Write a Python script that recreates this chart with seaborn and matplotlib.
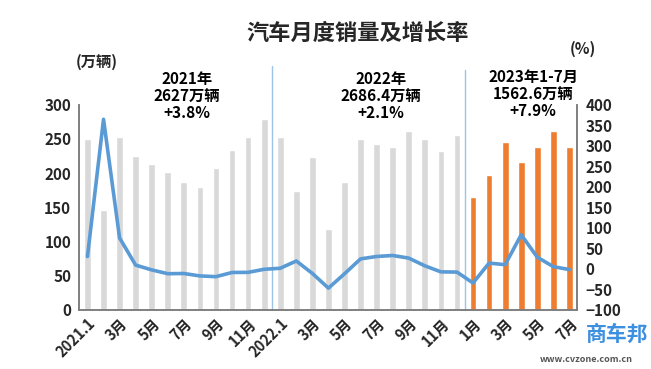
import matplotlib
matplotlib.use('Agg')
import matplotlib.pyplot as plt
import seaborn as sns
import numpy as np
import pandas as pd

# monthly sales (10k units), 2021.1 - 2023.7
sales_2021 = [250.3, 145.5, 252.6, 225.2, 212.8, 201.5, 186.4, 179.9, 207.1, 233.3, 252.2, 278.6]
sales_2022 = [253.1, 173.7, 223.4, 118.1, 186.2, 250.2, 242.0, 238.3, 261.0, 250.6, 232.6, 255.6]
sales_2023 = [164.9, 197.6, 245.1, 215.9, 238.2, 262.2, 238.7]

# year-on-year growth (%)
growth = [29.5, 364.6, 74.9, 8.6, -3.1, -12.4, -11.9, -17.8, -19.6, -9.4, -9.1, -1.6,
          0.9, 18.7, -11.7, -47.6, -12.6, 23.8, 29.7, 32.1, 25.7, 6.9, -7.9, -8.4,
          -35.0, 13.5, 9.7, 82.7, 27.9, 4.8, -2.3]

tick_labels = ['2021.1', '3月', '5月', '7月', '9月', '11月',
               '2022.1', '3月', '5月', '7月', '9月', '11月',
               '1月', '3月', '5月', '7月']

notes = ['2021年\n2627万辆\n+3.8%', '2022年\n2686.4万辆\n+2.1%', '2023年1-7月\n1562.6万辆\n+7.9%']

sales = sales_2021 + sales_2022 + sales_2023
period = ['old'] * (len(sales_2021) + len(sales_2022)) + ['new'] * len(sales_2023)
df = pd.DataFrame({'idx': np.arange(len(sales)), 'sales': sales, 'period': period, 'growth': growth})

sns.set_style('white')
plt.rcParams['font.family'] = ['Noto Sans CJK SC', 'DejaVu Sans']
plt.rcParams['font.weight'] = 'bold'

fig = plt.figure(figsize=(6.51, 3.69), dpi=100)
ax = fig.add_axes([0.122, 0.161, 0.765, 0.555])

sns.barplot(data=df, x='idx', y='sales', hue='period', dodge=False, width=0.42, saturation=1,
            palette={'old': '#D9D9D9', 'new': '#ED7D31'}, legend=False, ax=ax)
ax.set_xlim(-0.5, len(sales) - 0.5)
ax.set_ylim(0, 300)
ax.set_yticks(range(0, 301, 50))
ax.set_xticks(range(0, len(sales), 2))
ax.set_xticklabels(tick_labels, rotation=45, ha='right', rotation_mode='anchor', fontsize=10.5, fontweight='bold')
ax.tick_params(axis='y', labelsize=11, length=0, pad=6)
ax.tick_params(axis='x', length=0, pad=4)
for t in ax.get_yticklabels():
    t.set_fontweight('bold')
ax.set_xlabel('')
ax.set_ylabel('')

ax2 = ax.twinx()
sns.lineplot(data=df, x='idx', y='growth', color='#5B9BD5', linewidth=2.6, ax=ax2)
ax2.set_ylim(-100, 400)
ax2.set_yticks(range(-100, 401, 50))
ax2.tick_params(axis='y', labelsize=11, length=0, pad=6)
for t in ax2.get_yticklabels():
    t.set_fontweight('bold')
ax2.set_ylabel('')
ax2.set_xlim(-0.5, len(sales) - 0.5)

for a in (ax, ax2):
    a.spines['top'].set_visible(False)
    for s in ('left', 'right', 'bottom'):
        a.spines[s].set_color('#7F7F7F')
        a.spines[s].set_linewidth(1.2)

# year separators
for xs, top in ((11.5, 1.19), (23.5, 1.17)):
    ax.axvline(xs, ymin=0, ymax=top, color='#9DC3E6', linewidth=1, clip_on=False)

for xc, yc, txt in zip((6.2, 18.25, 27.75), (313, 313, 316), notes):
    ax.text(xc, yc, txt, ha='center', va='center', fontsize=11, fontweight='bold',
            linespacing=1.05, color='black')

fig.text(0.55, 0.91, '汽车月度销量及增长率', ha='center', va='center', fontsize=16, fontweight='bold')
fig.text(0.148, 0.832, '(万辆)', ha='center', va='center', fontsize=11, fontweight='bold')
fig.text(0.896, 0.868, '(%)', ha='center', va='center', fontsize=11, fontweight='bold')

# watermark logo
fig.text(0.948, 0.095, '商车邦', ha='center', va='center', fontsize=15, color='#3D8FE0', fontweight='bold')
fig.text(0.9, 0.025, 'www.cvzone.com.cn', ha='center', va='center', fontsize=6.5, color='#555555')

fig.savefig('out.png', dpi=100)
